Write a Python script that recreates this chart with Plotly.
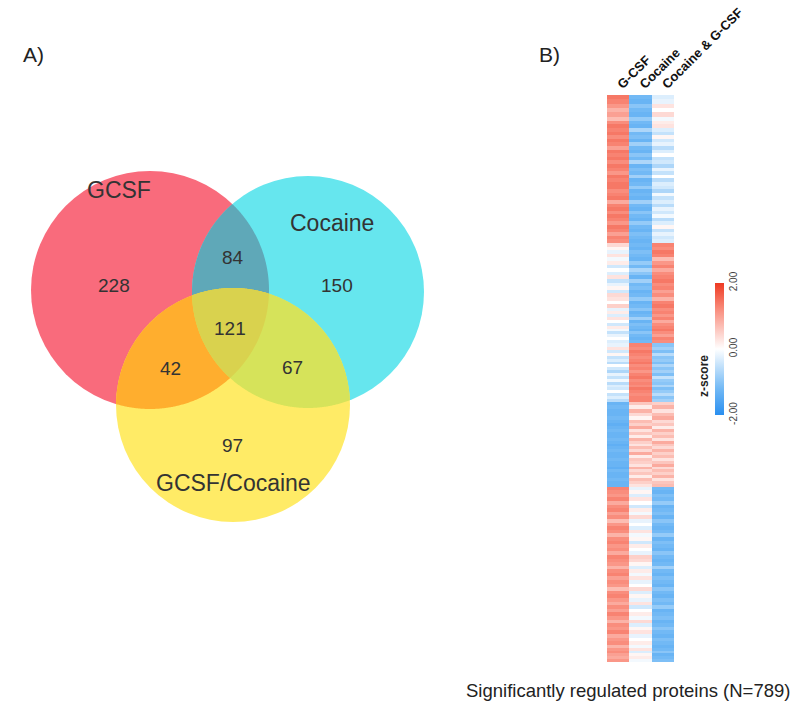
import numpy as np
import plotly.graph_objects as go

# ---------------- data ----------------
set_names = ["GCSF", "Cocaine", "GCSF/Cocaine"]
region_members = [(0,), (1,), (2,), (0, 1), (0, 2), (1, 2), (0, 1, 2)]
region_counts = [228, 150, 97, 84, 42, 67, 121]

heat_columns = ["G-CSF", "Cocaine", "Cocaine & G-CSF"]
n_proteins = 789
block_rows = [206, 139, 82, 118, 244]

gcsf_blocks = [
    [1.4,1.3,1.1,0.8,1.0,0.7,1.2,1.4,1.3,1.4,1.2,1.4,1.3,1.0,1.4,1.3,1.4,1.2,1.4,1.3,
     1.1,1.4,1.3,1.4,1.4,1.2,1.3,1.4,0.9,1.3,1.4,1.2,1.4,1.3,1.1,1.4,1.3,1.0,1.3,1.2],
    [0.4,0.1,-0.2,0.3,-0.1,0.2,-0.4,0.0,-0.3,0.3,-0.5,-0.2,0.1,-0.4,0.4,0.3,0.0,0.5,-0.2,0.2,
     -0.3,0.3,0.0,-0.4,0.2,-0.1,-0.5,-0.2,0.0,-0.3],
    [-0.2,0.3,-0.4,0.1,-0.5,-0.3,-0.6,0.0,-0.4,-0.7,-0.2,-0.5,-0.1,-0.6,-0.3,-0.4,0.0,-0.5,-0.3,-0.6],
    [-1.3,-1.2,-1.3,-1.3,-1.2,-1.3,-1.4,-1.3,-1.2,-1.3,-1.3,-1.2,-1.3,-1.4,-1.3,-1.2,-1.3,-1.3,
     -1.2,-1.3,-1.3,-1.4,-1.2,-1.3,-1.3,-1.2,-1.3,-1.3],
    [1.3,1.2,1.1,1.3,0.9,1.2,1.3,1.0,1.2,0.7,1.1,1.3,1.2,0.8,1.2,1.3,1.1,1.2,0.9,1.3,
     1.2,1.1,0.8,1.2,1.3,1.0,1.2,1.1,0.7,1.2,1.3,1.1,0.9,1.2,1.0,1.3,1.1,0.8,1.2,1.1,
     1.3,0.9,1.1,1.2,0.8,1.1,1.2,1.0,0.9,1.1],
]
cocaine_blocks = [
    [-1.2,-1.3,-1.0,-1.2,-1.3,-0.9,-1.2,-1.3,-0.7,-1.2,-1.1,-1.3,-0.8,-1.2,-1.3,-1.0,-1.2,-0.7,-1.3,-1.1,
     -1.2,-0.8,-1.3,-1.2,-0.9,-1.3,-1.2,-1.3,-0.8,-1.2,-1.3,-1.0,-1.2,-1.3,-0.9,-1.2,-1.3,-1.1,-1.2,-1.3],
    [-1.2,-1.3,-1.1,-1.2,-1.3,-0.9,-1.2,-0.7,-1.0,-1.3,-0.8,-1.2,-1.1,-1.3,-1.2,-0.9,-1.3,-1.2,-1.0,-1.3,
     -1.2,-0.8,-1.3,-1.1,-1.2,-1.3,-1.0,-1.2,-1.3,-1.2],
    [1.3,1.2,1.4,1.3,1.2,1.3,1.4,1.2,1.3,1.1,1.3,1.4,1.2,1.3,1.2,1.4,1.3,1.2,1.3,1.3],
    [0.6,0.2,0.8,0.4,0.1,0.7,0.5,0.9,0.3,0.6,0.2,0.8,0.5,0.3,0.7,0.4,0.9,0.2,0.6,0.5,
     0.3,0.8,0.4,0.6,0.2,0.7,0.5,0.3],
    [-0.2,0.1,-0.3,0.3,0.0,-0.4,0.2,-0.1,0.4,-0.2,0.0,-0.3,0.3,-0.1,0.1,-0.4,0.2,0.0,-0.2,0.5,
     0.4,0.1,-0.3,0.2,-0.1,0.3,-0.2,0.0,0.4,-0.3,0.1,-0.2,0.3,-0.4,0.0,0.2,-0.1,0.4,-0.3,0.1,
     0.3,-0.2,0.0,0.2,-0.1,0.3,-0.3,0.1,0.2,-0.1],
]
combo_blocks = [
    [-0.3,-0.2,0.3,0.0,0.4,-0.1,0.2,0.3,-0.3,-0.5,0.1,-0.4,-0.2,-0.6,-0.3,0.0,-0.5,-0.4,-0.7,-0.2,
     -0.5,0.0,-0.6,-0.3,-0.4,-0.7,-0.1,-0.5,-0.3,-0.6,-0.2,-0.4,-0.1,-0.6,-0.3,0.1,-0.5,-0.2,-0.4,-0.3],
    [1.3,1.2,1.4,1.3,0.7,1.1,1.3,0.9,1.2,1.3,1.4,1.2,1.3,1.0,1.2,0.8,1.3,1.4,1.2,1.3,
     1.1,1.3,0.9,1.2,1.3,1.4,1.2,1.0,1.3,1.2],
    [-1.0,-0.8,-1.1,-0.6,-1.0,-0.9,-1.1,-0.7,-1.0,-0.8,-1.1,-0.5,-0.9,-1.0,-0.7,-1.1,-0.9,-0.6,-1.0,-0.8],
    [0.5,0.8,0.3,0.7,0.9,0.4,0.6,0.2,0.8,0.5,0.7,0.3,0.9,0.6,0.4,0.8,0.5,0.7,0.3,0.6,
     0.9,0.4,0.7,0.5,0.8,0.3,0.6,0.7],
    [-1.2,-1.3,-1.1,-1.2,-0.9,-1.3,-1.2,-1.1,-1.3,-1.0,-1.2,-1.3,-1.2,-0.9,-1.3,-1.1,-1.2,-1.3,-1.0,-1.2,
     -1.3,-1.2,-0.8,-1.2,-1.3,-1.1,-1.2,-1.3,-1.0,-1.2,-1.3,-1.1,-1.2,-0.9,-1.3,-1.2,-1.1,-1.3,-1.2,-1.0,
     -1.2,-1.3,-1.1,-1.2,-1.3,-1.2,-1.0,-1.3,-1.2,-1.1],
]
cbar_ticks = [-2, 0, 2]
cbar_ticktext = ["-2.00", "0.00", "2.00"]

# ---------------- helpers ----------------
def expand(blocks):
    out = []
    for vals, n in zip(blocks, block_rows):
        sizes = [len(a) for a in np.array_split(np.arange(n), len(vals))]
        out.append(np.repeat(vals, sizes))
    return np.concatenate(out)

z = np.column_stack([expand(gcsf_blocks), expand(cocaine_blocks), expand(combo_blocks)])

# Venn geometry (pixel units on a 1:1 axis)
circles = [(150, 290, 119), (308, 292, 116), (233, 405, 117)]
circle_colors = ["#F96B7C", "#66E6EE", "#FFEB66"]
pair_colors = {(0, 1): "#5FA8B8", (0, 2): "#FFAE2E", (1, 2): "#D6E35A", (0, 1, 2): "#D9D24E"}

def inside(x, y, c):
    cx, cy, r = c
    return (x - cx) ** 2 + (y - cy) ** 2 <= r * r + 1e-6

def intersection_path(idxs):
    pts = []
    t = np.linspace(0, 2 * np.pi, 900, endpoint=False)
    for i in idxs:
        cx, cy, r = circles[i]
        xs, ys = cx + r * np.cos(t), cy + r * np.sin(t)
        m = np.ones_like(xs, dtype=bool)
        for j in idxs:
            if j != i:
                m &= inside(xs, ys, circles[j])
        pts.append(np.column_stack([xs[m], ys[m]]))
    P = np.concatenate(pts)
    c = P.mean(axis=0)
    order = np.argsort(np.arctan2(P[:, 1] - c[1], P[:, 0] - c[0]))
    P = P[order]
    return "M " + " L ".join(f"{x:.2f},{y:.2f}" for x, y in P) + " Z"

shapes = []
for (cx, cy, r), col in zip(circles, circle_colors):
    shapes.append(dict(type="circle", xref="x", yref="y", x0=cx - r, x1=cx + r,
                       y0=cy - r, y1=cy + r, fillcolor=col, line=dict(width=0)))
for key in [(0, 1), (0, 2), (1, 2), (0, 1, 2)]:
    shapes.append(dict(type="path", xref="x", yref="y", path=intersection_path(key),
                       fillcolor=pair_colors[key], line=dict(width=0)))

W, H = 792, 706
font_main = "Liberation Sans, Arial, Helvetica, sans-serif"

# label positions (pixels) for regions and set names
region_pos = {(0,): (114, 285), (1,): (337, 285), (2,): (232, 445),
              (0, 1): (233, 257), (0, 2): (170, 368), (1, 2): (292, 367), (0, 1, 2): (230, 328)}
set_pos = [(119, 190), (332, 223), (233, 483)]

annotations = []
for mem, cnt in zip(region_members, region_counts):
    x, y = region_pos[mem]
    annotations.append(dict(x=x, y=y, xref="x", yref="y", text=str(cnt), showarrow=False,
                            font=dict(size=19, color="#333333", family=font_main)))
for name, (x, y) in zip(set_names, set_pos):
    annotations.append(dict(x=x, y=y, xref="x", yref="y", text=name, showarrow=False,
                            font=dict(size=23, color="#333333", family=font_main)))

annotations += [
    dict(x=33 / W, y=1 - 55 / H, xref="paper", yref="paper", text="A)", showarrow=False,
         xanchor="center", yanchor="middle",
         font=dict(size=21, color="#222222", family=font_main)),
    dict(x=549 / W, y=1 - 55 / H, xref="paper", yref="paper", text="B)", showarrow=False,
         xanchor="center", yanchor="middle",
         font=dict(size=21, color="#222222", family=font_main)),
    dict(x=628 / W, y=1 - 690 / H, xref="paper", yref="paper",
         text=f"Significantly regulated proteins (N={n_proteins})", showarrow=False,
         xanchor="center", yanchor="middle",
         font=dict(size=18.5, color="#222222", family=font_main)),
    dict(x=704 / W, y=1 - 376 / H, xref="paper", yref="paper", text="<b>z-score</b>",
         textangle=-90, showarrow=False, xanchor="center", yanchor="middle",
         font=dict(size=12, color="#222222", family=font_main)),
]

fig = go.Figure()
fig.add_trace(go.Heatmap(
    z=z, x=heat_columns, y=np.arange(n_proteins), xaxis="x2", yaxis="y2",
    zmin=-2, zmax=2, zsmooth=False,
    colorscale=[[0, "#2A8FF0"], [0.2, "#72B9F5"], [0.5, "#FFFFFF"], [0.8, "#F98D7D"], [1, "#EE3A22"]],
    colorbar=dict(x=715 / W, xanchor="left", y=1 - 349 / H, yanchor="middle",
                  xpad=0, ypad=0, thickness=9, len=132, lenmode="pixels", outlinewidth=0,
                  tickvals=cbar_ticks, ticktext=cbar_ticktext, tickangle=-90,
                  ticks="", tickfont=dict(size=10, color="#444444", family=font_main)),
))

fig.update_layout(
    width=W, height=H, autosize=False, margin=dict(l=0, r=0, t=0, b=0, pad=0),
    paper_bgcolor="white", plot_bgcolor="white", showlegend=False,
    shapes=shapes, annotations=annotations,
    xaxis=dict(domain=[0, 0.6], range=[0, 0.6 * W], visible=False, fixedrange=True,
               automargin=False),
    yaxis=dict(domain=[0, 1], range=[H, 0], visible=False, fixedrange=True,
               automargin=False),
    xaxis2=dict(domain=[607 / W, 674 / W], anchor="y2", side="top", tickangle=-45,
                showgrid=False, zeroline=False, showline=False, ticks="", automargin=False,
                tickfont=dict(size=13, color="#111111", family=font_main, weight="bold")),
    yaxis2=dict(domain=[1 - 662 / H, 1 - 95 / H], anchor="x2", autorange="reversed",
                visible=False, automargin=False),
)

fig.write_html("out.html", config={"responsive": False, "displayModeBar": False},
               post_script="document.body.style.margin='0';document.body.style.overflow='hidden';")
